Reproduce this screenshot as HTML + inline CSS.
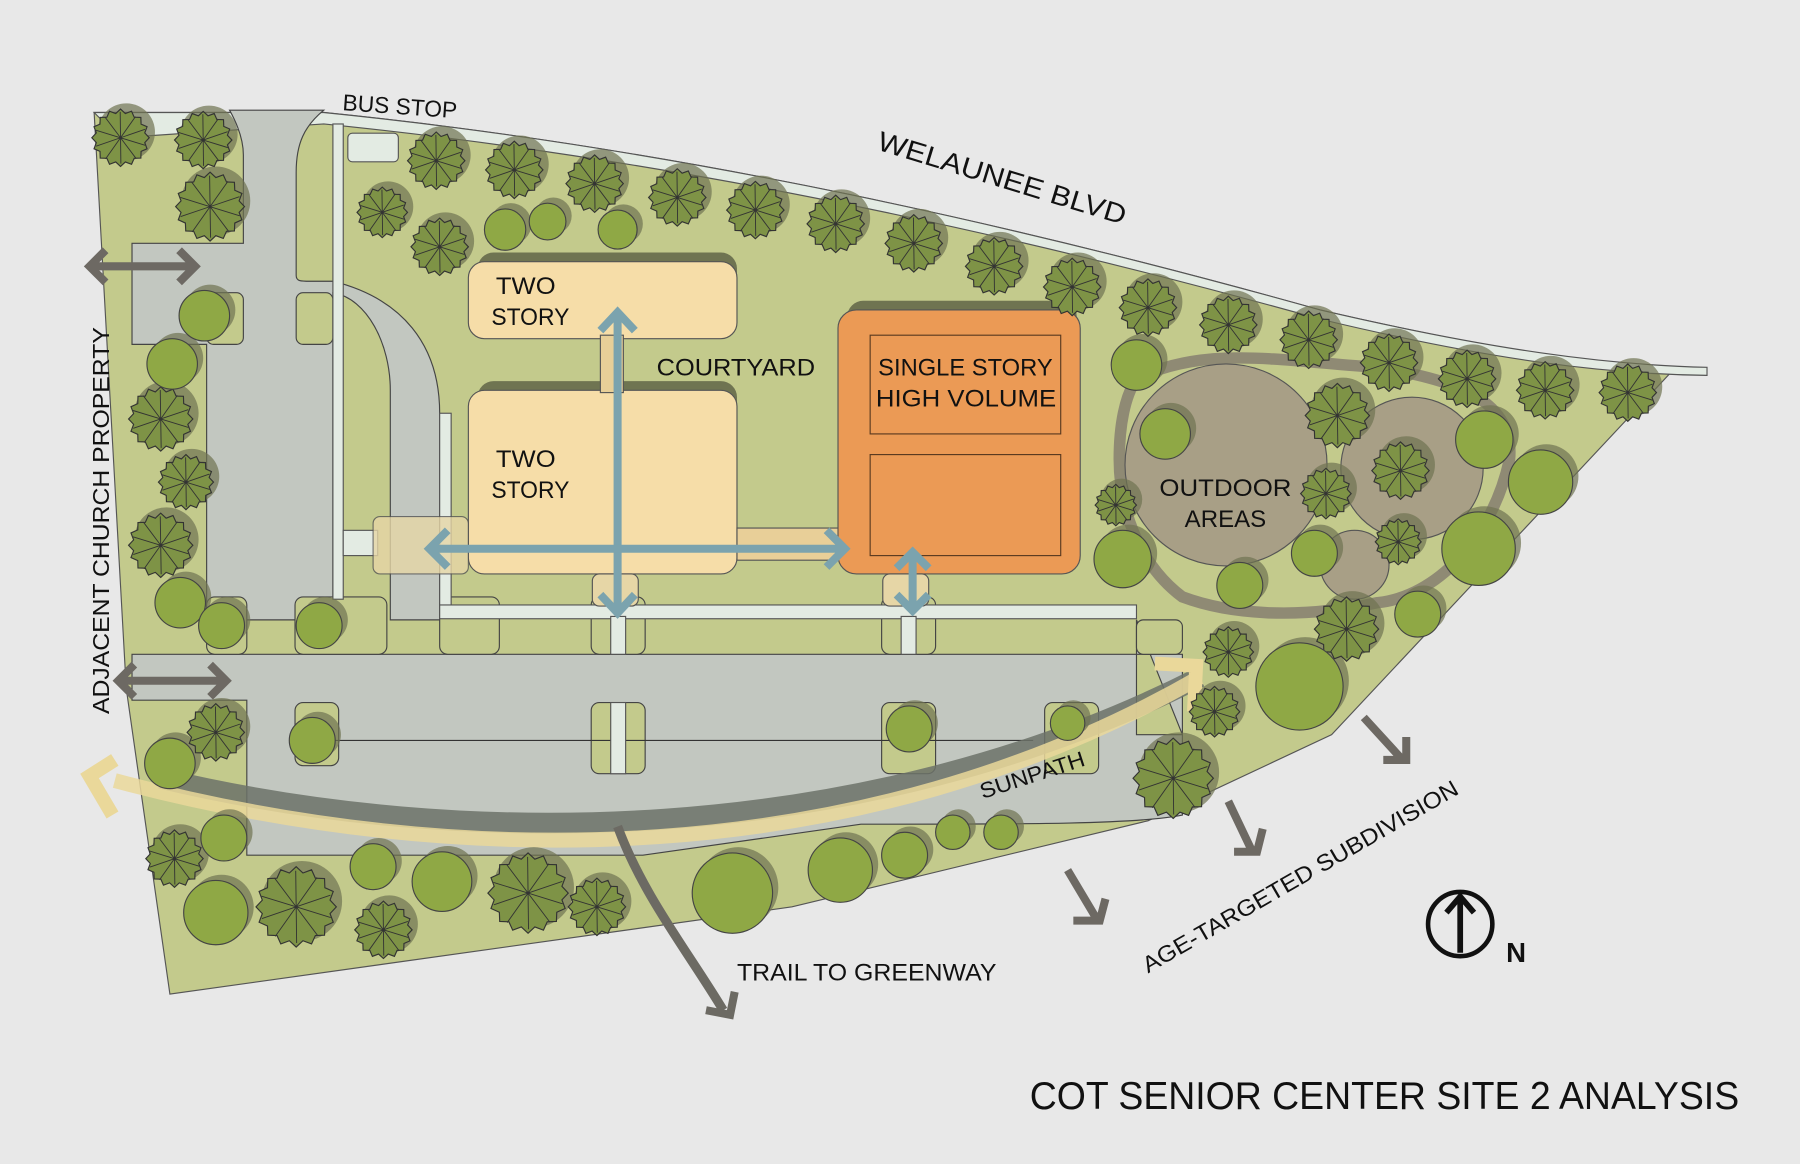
<!DOCTYPE html>
<html><head><meta charset="utf-8"><style>
html,body{margin:0;padding:0;background:#e8e8e8;}
svg{display:block;}
text{font-family:"Liberation Sans",sans-serif;fill:#111;}
</style></head><body>
<svg id="s" width="1800" height="1164" viewBox="0 0 1568 1014" preserveAspectRatio="none" xmlns="http://www.w3.org/2000/svg">
<rect width="1568" height="1014" fill="#e8e8e8"/>
<path d="M82,98 L282,98 C600,130 900,200 1150,270 C1300,305 1400,318 1455,325 L1160,640 L1000,715 L690,790 L148,866 L110,600 Z" fill="#c3ca8c" stroke="#555" stroke-width="1"/>
<path d="M82,98 L282,98 C600,130 900,200 1150,270 C1300,305 1400,318 1487,320 L1487,327 C1400,326 1300,314 1150,278 C900,208 600,140 282,108 L104,120 Z" fill="#e3ebe3" stroke="#555" stroke-width="1"/>
<rect x="303" y="116" width="44" height="25" rx="4" fill="#e3ebe3" stroke="#555"/>
<g fill="#c2c7c0" stroke="#444" stroke-width="1">
<path d="M200,96 L282,96 C265,110 258,125 258,150 L258,240 C258,245 262,245 270,245 L290,245 C350,260 383,300 383,360 L383,540 L340,540 L340,340 C340,300 320,260 290,255 L290,540 L180,540 L180,300 L115,300 L115,212 L212,212 L212,135 C212,120 205,105 200,96 Z"/>
<path d="M115,570 L1030,570 L1030,640 L990,540 L990,640 L1030,640 L1030,710 C990,718 900,718 750,718 L560,745 L290,745 L215,745 L215,610 L115,610 Z"/>
</g>
<g fill="#c3ca8c" stroke="#444" stroke-width="1">
<rect x="258" y="255" width="32" height="45" rx="6"/>
<rect x="180" y="255" width="32" height="45" rx="6"/>
<rect x="257" y="520" width="80" height="50" rx="7"/>
<rect x="180" y="520" width="35" height="50" rx="7"/>
<rect x="383" y="520" width="52" height="50" rx="7"/>
<rect x="515" y="520" width="47" height="50" rx="7"/>
<rect x="768" y="520" width="47" height="50" rx="7"/>
<rect x="257" y="612" width="38" height="55" rx="7"/>
<rect x="515" y="612" width="47" height="62" rx="7"/>
<rect x="768" y="612" width="47" height="62" rx="7"/>
<rect x="910" y="612" width="47" height="62" rx="7"/>
<rect x="990" y="540" width="40" height="30" rx="6"/>
</g>
<path d="M290,645 H900" stroke="#333" stroke-width="1"/>
<g fill="#e3ebe3" stroke="#555" stroke-width="1">
<rect x="290" y="108" width="9" height="414"/>
<rect x="383" y="360" width="10" height="170"/>
<rect x="383" y="527" width="607" height="12"/>
<rect x="532" y="537" width="13" height="33"/>
<rect x="785" y="537" width="13" height="33"/>
<rect x="532" y="612" width="13" height="62"/>
<rect x="299" y="462" width="30" height="22"/>
</g>
<g>
<rect x="416" y="220" width="226" height="66" rx="14" fill="#6f7451"/>
<rect x="408" y="228" width="234" height="67" rx="14" fill="#f6dda8" stroke="#555"/>
<rect x="416" y="332" width="226" height="60" rx="14" fill="#6f7451"/>
<rect x="408" y="340" width="234" height="160" rx="14" fill="#f6dda8" stroke="#555"/>
<rect x="523" y="292" width="20" height="50" fill="#e8cf98" stroke="#555"/>
<rect x="642" y="460" width="90" height="28" fill="#e8cf98" stroke="#555"/>
<rect x="325" y="450" width="83" height="50" rx="6" fill="#e6d6a6" opacity=".8" stroke="#555"/>
<rect x="738" y="262" width="200" height="40" rx="14" fill="#6f7451"/>
<rect x="730" y="270" width="211" height="230" rx="16" fill="#eb9a55" stroke="#555"/>
<rect x="758" y="292" width="166" height="86" fill="none" stroke="#5a3a20"/>
<rect x="758" y="396" width="166" height="88" fill="none" stroke="#5a3a20"/>
<rect x="516" y="500" width="40" height="28" rx="6" fill="#e6d6a6" stroke="#555"/>
<rect x="769" y="500" width="40" height="28" rx="6" fill="#e6d6a6" stroke="#555"/>
</g>
<path d="M990,330 C1050,300 1120,315 1200,320 C1260,330 1320,345 1315,400 C1300,470 1250,520 1200,525 C1130,540 1070,535 1030,520 C990,490 975,440 975,400 C975,370 980,345 990,330 Z" fill="none" stroke="#8f8a74" stroke-width="10"/>
<circle cx="1068" cy="405" r="88" fill="#a89f86" stroke="#555"/>
<circle cx="1230" cy="408" r="62" fill="#a89f86" stroke="#555"/>
<circle cx="1180" cy="492" r="30" fill="#a89f86" stroke="#555"/>
<path d="M140,678 C400,740 750,740 1045,590" fill="none" stroke="#6c7268" stroke-width="18" opacity=".85"/>
<path d="M100,680 C400,760 750,760 1045,590" fill="none" stroke="#ead89a" stroke-width="13" opacity=".85"/>
<path d="M100,662 L78,676 L98,710" fill="none" stroke="#ead89a" stroke-width="12"/>
<path d="M1006,578 L1042,580 L1040,620" fill="none" stroke="#ead89a" stroke-width="12"/>
<path d="M538,720 C560,780 600,830 630,880" fill="none" stroke="#6c6a63" stroke-width="8"/>
<path d="M615,880 L636,884 L640,864" fill="none" stroke="#6c6a63" stroke-width="7"/>
<g id="trees"></g>
<g fill="none" stroke="#6d6963" stroke-width="7">
<path d="M80,232 H168 M92,218 L78,232 L92,246 M156,218 L170,232 L156,246"/>
<path d="M105,593 H195 M117,579 L103,593 L117,607 M183,579 L197,593 L183,607"/>
<path d="M1188,625 L1220,660 M1205,662 L1225,662 L1225,642"/>
<path d="M1070,698 L1090,740 M1075,742 L1095,742 L1100,722"/>
<path d="M930,758 L955,800 M935,802 L958,802 L963,783"/>
</g>
<g fill="none" stroke="#7ba3ae" stroke-width="7">
<path d="M538,275 V533 M523,288 L538,272 L553,288 M523,518 L538,534 L553,518"/>
<path d="M375,478 H735 M390,462 L374,478 L390,494 M720,462 L736,478 L720,494"/>
<path d="M795,482 V530 M781,495 L795,481 L809,495 M781,518 L795,532 L809,518"/>
</g>
<circle cx="1272" cy="805" r="28" fill="none" stroke="#111" stroke-width="4"/>
<path d="M1272,830 V782 M1260,795 L1272,781 L1284,795" fill="none" stroke="#111" stroke-width="5"/>
<text x="1312" y="838" font-size="24" font-weight="bold">N</text>
<text x="298" y="96" font-size="20" textLength="100" lengthAdjust="spacingAndGlyphs" transform="rotate(4 298 96)">BUS STOP</text>
<text x="763" y="130" font-size="24" textLength="225" lengthAdjust="spacingAndGlyphs" transform="rotate(17 763 130)">WELAUNEE BLVD</text>
<text x="432" y="256" font-size="21" textLength="52" lengthAdjust="spacingAndGlyphs">TWO</text>
<text x="428" y="283" font-size="21" textLength="68" lengthAdjust="spacingAndGlyphs">STORY</text>
<text x="432" y="407" font-size="21" textLength="52" lengthAdjust="spacingAndGlyphs">TWO</text>
<text x="428" y="434" font-size="21" textLength="68" lengthAdjust="spacingAndGlyphs">STORY</text>
<text x="572" y="327" font-size="21" textLength="138" lengthAdjust="spacingAndGlyphs">COURTYARD</text>
<text x="765" y="327" font-size="21" textLength="152" lengthAdjust="spacingAndGlyphs">SINGLE STORY</text>
<text x="763" y="354" font-size="21" textLength="157" lengthAdjust="spacingAndGlyphs">HIGH VOLUME</text>
<text x="1010" y="432" font-size="21" textLength="115" lengthAdjust="spacingAndGlyphs">OUTDOOR</text>
<text x="1032" y="459" font-size="21" textLength="71" lengthAdjust="spacingAndGlyphs">AREAS</text>
<text x="95" y="622" font-size="20" textLength="337" lengthAdjust="spacingAndGlyphs" transform="rotate(-90 95 622)">ADJACENT CHURCH PROPERTY</text>
<text x="856" y="696" font-size="19" textLength="95" lengthAdjust="spacingAndGlyphs" transform="rotate(-18 856 696)">SUNPATH</text>
<text x="642" y="854" font-size="21" textLength="226" lengthAdjust="spacingAndGlyphs">TRAIL TO GREENWAY</text>
<text x="1000" y="848" font-size="20" textLength="314" lengthAdjust="spacingAndGlyphs" transform="rotate(-30 1000 848)">AGE-TARGETED SUBDIVISION</text>
<text x="897" y="966" font-size="34" textLength="618" lengthAdjust="spacingAndGlyphs">COT SENIOR CENTER SITE 2 ANALYSIS</text>
</svg>
<script>
(function(){
var NS="http://www.w3.org/2000/svg",g=document.getElementById("trees");
var star=[[105,120,25],[177,122,25],[183,180,30],[140,365,28],[162,420,24],[140,475,28],[188,638,25],[152,748,25],[258,790,35],[334,810,25],[460,778,35],[520,790,25],[380,140,25],[448,148,25],[518,160,25],[590,172,25],[658,183,25],[728,195,25],[796,212,25],[866,232,25],[934,250,25],[1000,268,25],[1070,283,25],[1140,296,25],[1210,316,25],[1278,330,25],[1346,340,25],[1418,342,25],[333,185,22],[383,215,25],[1165,362,28],[1220,410,25],[1155,430,22],[1218,472,20],[972,440,18],[1070,568,22],[1058,620,22],[1173,548,28],[1022,678,35]];
var round=[[178,275,22],[150,317,22],[157,525,22],[193,545,20],[278,545,20],[272,645,20],[148,665,22],[195,730,20],[325,755,20],[385,768,26],[188,795,28],[638,778,35],[732,758,28],[788,745,20],[830,725,15],[872,725,15],[792,635,20],[930,630,15],[440,200,18],[477,193,16],[538,200,17],[990,318,22],[1015,378,22],[978,487,25],[1080,510,20],[1145,482,20],[1293,383,25],[1342,420,28],[1288,478,32],[1235,535,20],[1132,598,38]];
function el(n,a){var e=document.createElementNS(NS,n);for(var k in a)e.setAttribute(k,a[k]);g.appendChild(e);return e;}
star.concat(round).forEach(function(t){el("circle",{cx:t[0]+5,cy:t[1]-5,r:t[2],fill:"#6f7451",opacity:".7"});});
star.forEach(function(t){
 var pts=[],n=16;
 for(var i=0;i<n*2;i++){var a=i*Math.PI/n,r=i%2?t[2]*0.86:t[2];pts.push((t[0]+r*Math.cos(a)).toFixed(1)+","+(t[1]+r*Math.sin(a)).toFixed(1));}
 el("polygon",{points:pts.join(" "),fill:"#7e9346",stroke:"#333","stroke-width":"1"});
 var d="";for(var j=0;j<10;j++){var b=j*Math.PI/5+0.3;d+="M"+t[0]+","+t[1]+"L"+(t[0]+t[2]*0.9*Math.cos(b)).toFixed(1)+","+(t[1]+t[2]*0.9*Math.sin(b)).toFixed(1);}
 el("path",{d:d,stroke:"#333","stroke-width":"0.8",fill:"none"});
});
round.forEach(function(t){el("circle",{cx:t[0],cy:t[1],r:t[2],fill:"#8fa845",stroke:"#444","stroke-width":"1"});});
})();
</script>
</body></html>
